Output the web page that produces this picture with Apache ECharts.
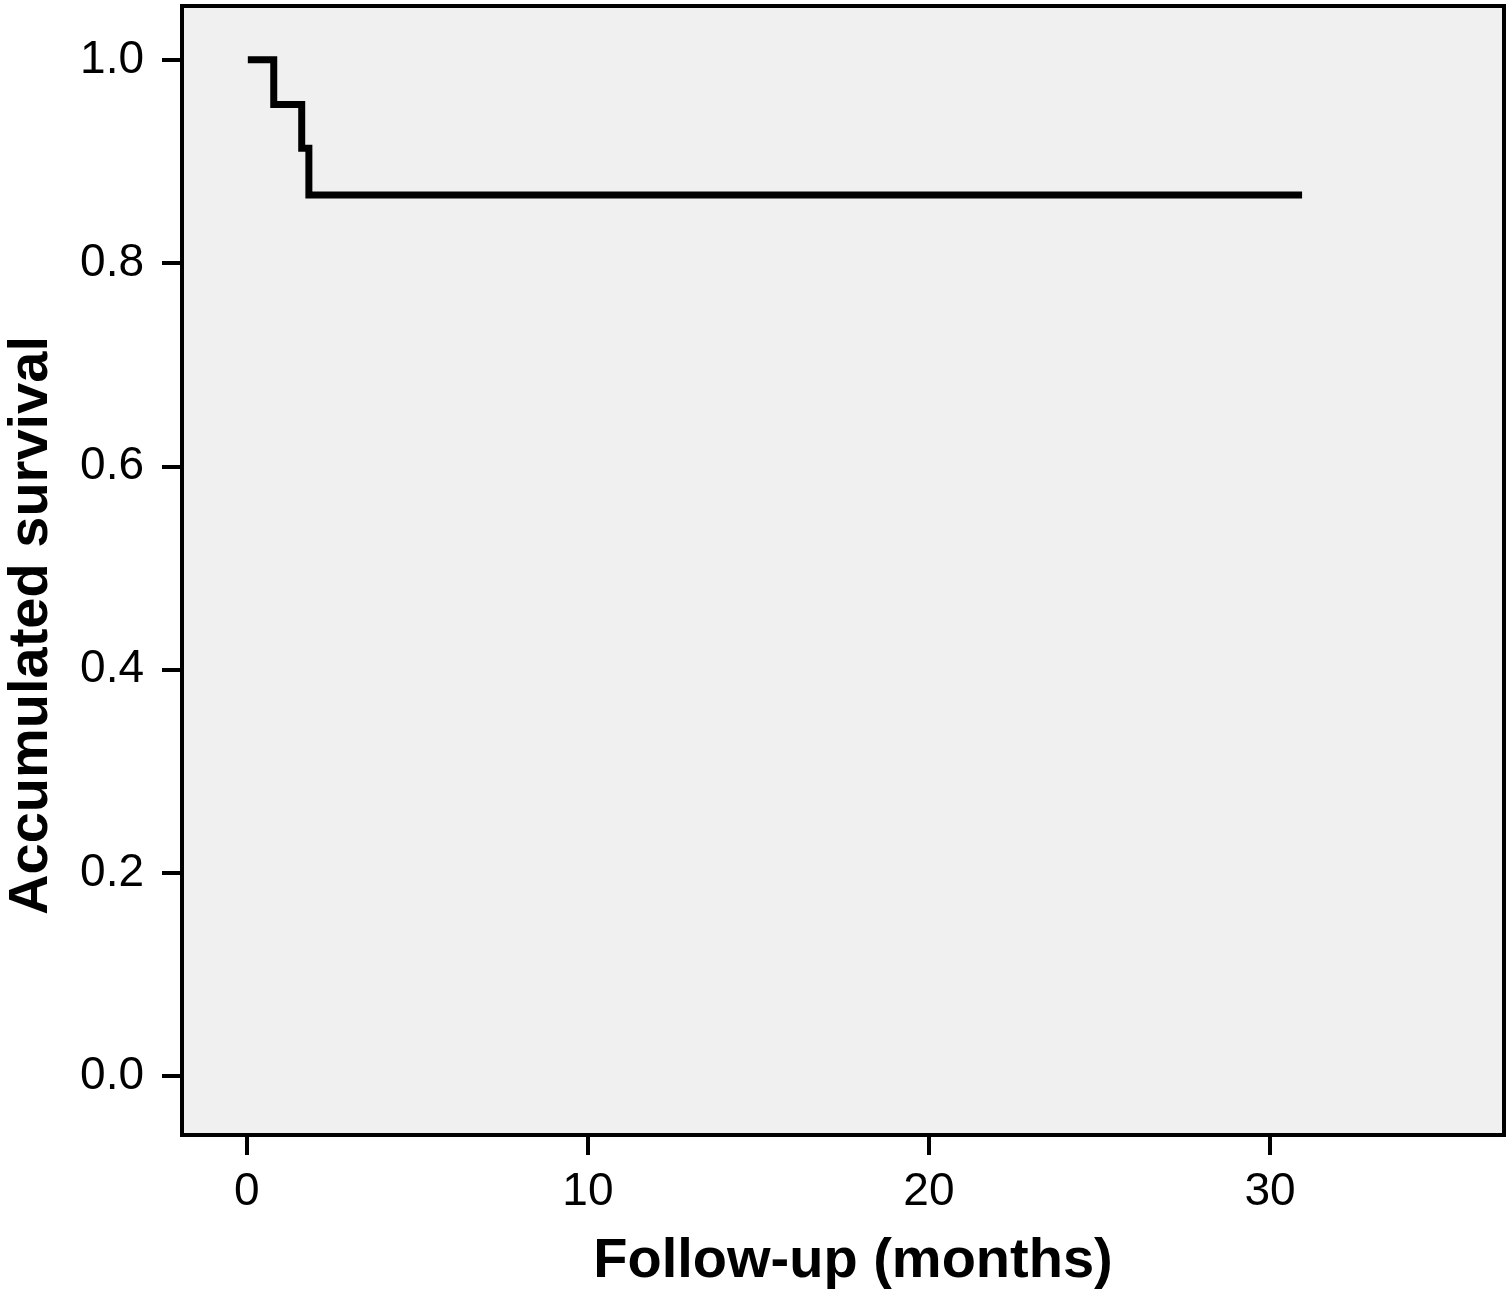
<!DOCTYPE html>
<html>
<head>
<meta charset="utf-8">
<script src="https://cdn.jsdelivr.net/npm/echarts@6/dist/echarts.min.js"></script>
<style>
  html, body { margin: 0; padding: 0; background: #fff; }
  #chart { width: 1507px; height: 1306px; }
</style>
</head>
<body>
<div id="chart"></div>
<script>
// Kaplan-Meier step points: time (months) and survival
const times = [0.03, 0.79, 1.61, 1.82, 30.94]
const survival = [1.0, 0.956, 0.913, 0.867, 0.867]
const xTicks = [0, 10, 20, 30]
const yTicks = [0, 0.2, 0.4, 0.6, 0.8, 1.0]

const FONT = '"Liberation Sans", Arial, Helvetica, sans-serif'

const chart = echarts.init(document.getElementById('chart'))
chart.setOption({
  animation: false,
  backgroundColor: '#ffffff',
  grid: {
    left: 182,
    right: 3,
    top: 6,
    bottom: 171,
    containLabel: false,
    outerBoundsMode: 'none',
    show: true,
    backgroundColor: '#f0f0f0',
    borderColor: '#000',
    borderWidth: 4
  },
  xAxis: {
    type: 'value',
    min: -1.9,
    max: 36.86,
    name: 'Follow-up (months)',
    nameLocation: 'middle',
    nameGap: 99,
    nameTextStyle: { fontFamily: FONT, fontWeight: 'bold', fontSize: 56, color: '#000', padding: [0, 0, 0, 20] },
    axisLine: { show: false, onZero: false },
    splitLine: { show: false },
    axisTick: { show: true, inside: false, length: 20, customValues: xTicks, lineStyle: { color: '#000', width: 4 } },
    axisLabel: { customValues: xTicks, margin: 34, fontFamily: FONT, fontSize: 46, color: '#000' }
  },
  yAxis: {
    type: 'value',
    min: -0.058,
    max: 1.053,
    name: 'Accumulated survival',
    nameLocation: 'middle',
    nameGap: 122,
    nameTextStyle: { fontFamily: FONT, fontWeight: 'bold', fontSize: 56, color: '#000', padding: [0, 110, 0, 0] },
    axisLine: { show: false, onZero: false },
    splitLine: { show: false },
    axisTick: { show: true, inside: false, length: 20, customValues: yTicks, lineStyle: { color: '#000', width: 4 } },
    axisLabel: {
      customValues: yTicks,
      margin: 38,
      fontFamily: FONT,
      fontSize: 46,
      color: '#000',
      formatter: v => v.toFixed(1)
    }
  },
  series: [
    {
      type: 'line',
      step: 'end',
      showSymbol: false,
      data: times.map((t, i) => [t, survival[i]]),
      lineStyle: { color: '#000', width: 7, cap: 'butt', join: 'miter' }
    }
  ]
})
</script>
</body>
</html>
